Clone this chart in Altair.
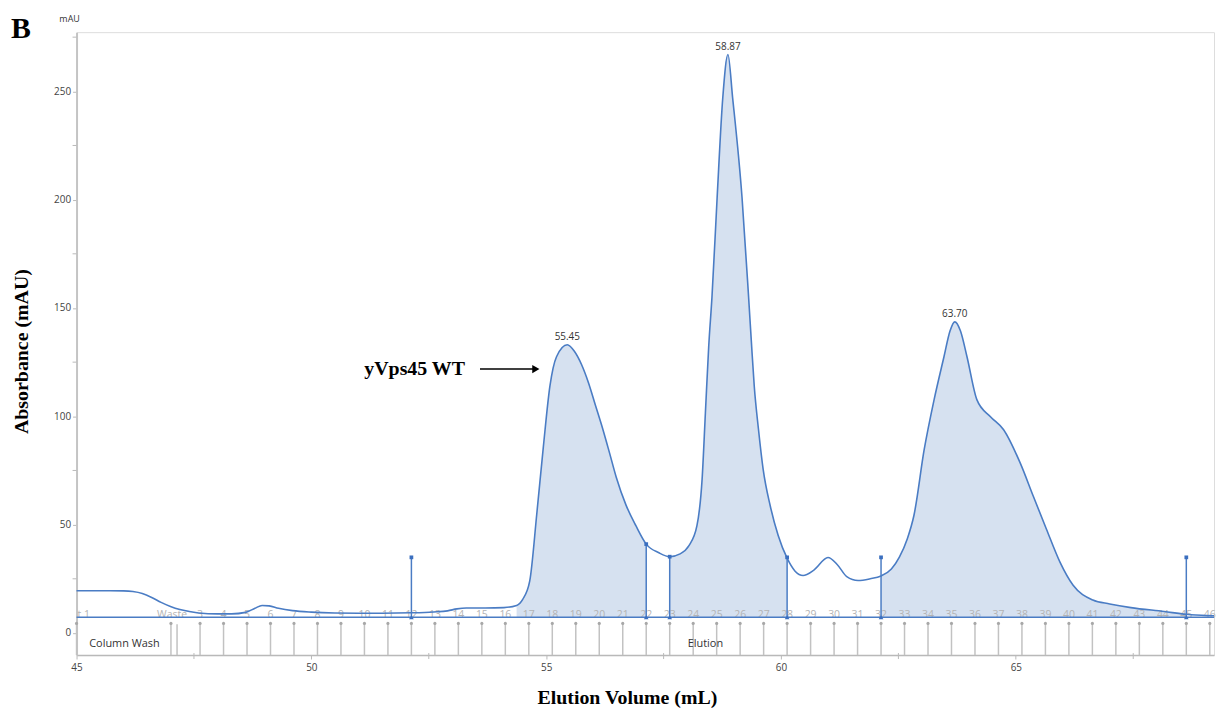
import altair as alt
import pandas as pd

# ---------------- data ----------------
vol = [45.0, 45.5, 46.0, 46.2, 46.4, 46.6, 46.8, 47.0, 47.2, 47.4, 47.6, 48.0, 48.3, 48.6,
       48.8, 48.95, 49.1, 49.3, 49.6, 50.0, 50.5, 51.0, 51.5, 52.13, 52.6, 52.9, 53.1, 53.3,
       53.7, 54.1, 54.37, 54.5, 54.65, 54.8, 54.94, 55.08, 55.22, 55.45, 55.6, 55.75, 55.9,
       56.05, 56.2, 56.35, 56.49, 56.7, 56.91, 57.13, 57.4, 57.63, 57.85, 58.04, 58.21, 58.32,
       58.39, 58.46, 58.53, 58.64, 58.76, 58.87, 58.97, 59.17, 59.31, 59.37, 59.43, 59.52,
       59.62, 59.77, 59.94, 60.13, 60.3, 60.47, 60.7, 61.0, 61.2, 61.4, 61.64, 61.9, 62.13,
       62.35, 62.52, 62.69, 62.83, 63.05, 63.26, 63.47, 63.6, 63.7, 63.82, 63.96, 64.17, 64.46,
       64.74, 65.09, 65.37, 65.65, 65.94, 66.22, 66.64, 67.0, 67.45, 68.16, 68.63, 69.08, 69.22]
mau = [19.5, 19.5, 19.4, 19.1, 18.2, 16.4, 14.1, 12.2, 10.8, 9.9, 9.2, 8.8, 8.8, 9.5,
       11.4, 12.7, 12.5, 11.4, 10.3, 9.6, 9.2, 9.1, 9.1, 9.3, 9.7, 10.2, 11.1, 11.5,
       11.5, 11.7, 12.7, 15.5, 24.0, 55.0, 86.0, 114.0, 127.5, 133.0, 130.0, 124.0, 115.5,
       105.0, 94.5, 83.0, 72.0, 59.0, 49.5, 41.0, 37.0, 35.2, 36.5, 40.3, 49.5, 71.0,
       101.5, 132.0, 155.0, 201.0, 247.0, 267.0, 247.0, 201.0, 155.0, 134.0, 114.0, 94.0,
       75.5, 58.7, 45.0, 34.5, 28.5, 26.5, 29.0, 34.8, 31.5, 26.0, 24.2, 25.0, 26.3,
       29.5, 35.0, 43.5, 54.2, 84.8, 107.7, 127.5, 139.5, 143.6, 139.5, 127.5, 107.7, 99.8,
       93.8, 78.6, 63.2, 48.0, 32.7, 22.0, 15.2, 13.4, 11.7, 9.9, 8.6, 8.0, 7.9]

baseline_mau = 7.2

# integrated peak windows (start, end)
peak_win_start = [54.37, 57.63, 62.13]
peak_win_end = [57.13, 60.13, 68.63]

# peak-cut markers
marker_vol = [52.13, 57.13, 57.63, 60.13, 62.13, 68.63]
marker_top = [34.9, 41.0, 35.2, 34.9, 34.9, 34.9]

# peak labels
peak_vol = [55.45, 58.87, 63.70]
peak_mau = [133.0, 267.0, 143.6]
peak_text = ["55.45", "58.87", "63.70"]

# fractions
frac_numbers = list(range(3, 47))
frac_first_vol = 47.63
frac_size = 0.5
waste_vol = [47.01, 47.14]
frac_extra_labels = ["t 1", "Waste"]
frac_extra_vol = [45.0, 47.01]
frac_extra_dx = [1, -14]

# phases
phase_text = ["Column Wash", "Elution"]
phase_vol = [46.02, 58.39]

# ---------------- tables ----------------
curve = pd.DataFrame({"vol": vol, "mau": mau})
curve["base"] = baseline_mau

fill_parts = []
for i, (s, e) in enumerate(zip(peak_win_start, peak_win_end)):
    part = curve[(curve.vol >= s) & (curve.vol <= e)].copy()
    part["seg"] = i
    fill_parts.append(part)
fill = pd.concat(fill_parts)

frac_vol = [frac_first_vol + frac_size * (n - 3) for n in frac_numbers]
frac_ticks = pd.DataFrame({"vol": [45.0] + [waste_vol[0]] + frac_vol})
frac_ticks["top"] = 4.4
frac_ticks["bot"] = -10.2
waste_extra = pd.DataFrame({"vol": [waste_vol[1]], "top": [4.0], "bot": [-10.2]})
frac_lab = pd.DataFrame({"vol": frac_vol, "lab": [str(n) for n in frac_numbers]})
frac_lab["y"] = 8.3

markers = pd.DataFrame({"vol": marker_vol, "top": marker_top})
markers["base"] = baseline_mau

peaks = pd.DataFrame({"vol": peak_vol, "mau": peak_mau, "lab": peak_text})
phases = pd.DataFrame({"vol": phase_vol, "lab": phase_text})
phases["y"] = -5.3

base_df = pd.DataFrame({"vol": [45.0], "vol2": [69.22], "y": [baseline_mau]})
ymin = pd.DataFrame({"v": [25, 75, 125, 175, 225, 275]})
xmin = pd.DataFrame({"v": [47.5, 52.5, 57.5, 62.5, 67.5]})

annot = pd.DataFrame({"vol": [53.27], "y": [121.8], "lab": ["yVps45 WT"]})
arrow = pd.DataFrame({"vol": [53.59], "vol2": [54.72], "y": [121.8]})
arrow_head = pd.DataFrame({"vol": [54.78], "y": [121.8]})

# ---------------- encodings ----------------
XS = alt.Scale(domain=[45, 69.22], nice=False, zero=False)
YS = alt.Scale(domain=[-10.2, 277.3], nice=False, zero=False)
LABEL_FONT = "Open Sans"
TITLE_FONT = "Liberation Serif"

XAX = alt.Axis(values=[45, 50, 55, 60, 65], title="Elution Volume (mL)", grid=False,
               domainColor="#b9b9b9", domainWidth=1.5, tickColor="#b9b9b9", tickSize=4,
               labelFont=LABEL_FONT, labelFontSize=10, labelColor="#444", labelPadding=4,
               labelFlush=False,
               titleFont=TITLE_FONT, titleFontSize=20, titleFontWeight="bold", titleColor="#000",
               titleX=554, titleY=43, titleBaseline="middle", titleAlign="center")
YAX = alt.Axis(values=[0, 50, 100, 150, 200, 250], title="Absorbance (mAU)", grid=False,
               domainColor="#c4c4c4", domainWidth=2, tickColor="#b9b9b9", tickSize=4,
               labelFont=LABEL_FONT, labelFontSize=10, labelColor="#444", labelPadding=2,
               labelFlush=False,
               titleFont=TITLE_FONT, titleFontSize=20, titleFontWeight="bold", titleColor="#000",
               titleX=-55, titleY=321, titleAngle=270, titleBaseline="middle", titleAlign="center")


def X(f):
    return alt.X(f"{f}:Q", scale=XS, axis=XAX)


def Y(f):
    return alt.Y(f"{f}:Q", scale=YS, axis=YAX)


BLUE = "#4a7cc4"
FILL = "#d6e1f0"

area = alt.Chart(fill).mark_area(color=FILL, interpolate="monotone", opacity=1).encode(
    x=X("vol"), y=Y("mau"), y2="base:Q", detail="seg:N")

base_line = alt.Chart(base_df).mark_rule(color=BLUE, strokeWidth=1.5).encode(
    x=X("vol"), x2="vol2:Q", y=Y("y"))

ftick = alt.Chart(frac_ticks).mark_rule(color="#c2c2c2", strokeWidth=1.5).encode(
    x=X("vol"), y=Y("top"), y2="bot:Q")
ftick2 = alt.Chart(waste_extra).mark_rule(color="#c2c2c2", strokeWidth=1.5).encode(
    x=X("vol"), y=Y("top"), y2="bot:Q")
fdot = alt.Chart(frac_ticks).mark_point(filled=True, color="#a8a8a8", size=10, opacity=1).encode(
    x=X("vol"), y=Y("top"))
flab = alt.Chart(frac_lab).mark_text(font=LABEL_FONT, fontSize=10.5, color="#b3b3b3",
                                    baseline="middle", align="center").encode(
    x=X("vol"), y=Y("y"), text="lab:N")

extra_layers = []
for v, lab, dx in zip(frac_extra_vol, frac_extra_labels, frac_extra_dx):
    d = pd.DataFrame({"vol": [v], "lab": [lab], "y": [8.3]})
    extra_layers.append(
        alt.Chart(d).mark_text(font=LABEL_FONT, fontSize=10.5, color="#b3b3b3",
                               baseline="middle", align="left", dx=dx).encode(
            x=X("vol"), y=Y("y"), text="lab:N"))

line = alt.Chart(curve).mark_line(color=BLUE, strokeWidth=1.6, interpolate="monotone").encode(
    x=X("vol"), y=Y("mau"))

mrule = alt.Chart(markers).mark_rule(color=BLUE, strokeWidth=1.5).encode(
    x=X("vol"), y=Y("top"), y2="base:Q")
mtop = alt.Chart(markers).mark_square(color="#3b6fbf", size=14, opacity=1).encode(
    x=X("vol"), y=Y("top"))
mbot = alt.Chart(markers).mark_point(shape="triangle-up", filled=True, color="#3b6fbf",
                                     size=22, opacity=1).encode(x=X("vol"), y=Y("base"))

plab = alt.Chart(peaks).mark_text(font=LABEL_FONT, fontSize=10, color="#333",
                                  baseline="bottom", dy=-3).encode(
    x=X("vol"), y=Y("mau"), text="lab:N")

phase = alt.Chart(phases).mark_text(font=LABEL_FONT, fontSize=11, color="#333",
                                    baseline="middle").encode(
    x=X("vol"), y=Y("y"), text="lab:N")

ymt = alt.Chart(ymin).mark_rule(color="#b9b9b9").encode(
    y=Y("v"), x=alt.value(-4), x2=alt.value(0))
xmt = alt.Chart(xmin).mark_rule(color="#b9b9b9").encode(
    x=X("v"), y=alt.value(625), y2=alt.value(631))

ann = alt.Chart(annot).mark_text(font=TITLE_FONT, fontSize=20, fontWeight="bold", color="#000",
                                 align="right", baseline="middle").encode(
    x=X("vol"), y=Y("y"), text="lab:N")
arr = alt.Chart(arrow).mark_rule(color="#000", strokeWidth=1.6).encode(
    x=X("vol"), x2="vol2:Q", y=Y("y"))
arrh = alt.Chart(arrow_head).mark_point(shape="triangle-right", filled=True, color="#000",
                                        size=70, opacity=1).encode(x=X("vol"), y=Y("y"))

panel = alt.Chart(pd.DataFrame({"t": ["B"]})).mark_text(
    font=TITLE_FONT, fontSize=30, fontWeight="bold", color="#000", align="center",
    baseline="middle").encode(text="t:N", x=alt.value(-56), y=alt.value(-3))
unit = alt.Chart(pd.DataFrame({"t": ["mAU"]})).mark_text(
    font=LABEL_FONT, fontSize=9, color="#333", align="center", baseline="middle").encode(
    text="t:N", x=alt.value(-7), y=alt.value(-13))

chart = alt.layer(
    area, ftick, ftick2, fdot, flab, *extra_layers, base_line, line, mrule, mtop, mbot, plab,
    phase, ymt, xmt, ann, arr, arrh, panel, unit
).properties(
    width=1145, height=627,
    autosize=alt.AutoSizeParams(type="none"),
    padding={"left": 69, "top": 22, "right": 3, "bottom": 54},
).configure_view(stroke=None).configure(background="white")

chart.save("out.html", embed_options={"renderer": "svg", "actions": False})
